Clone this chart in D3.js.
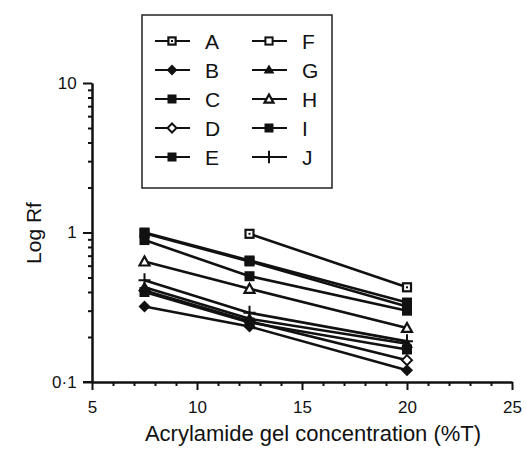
<!DOCTYPE html>
<html><head><meta charset="utf-8">
<script src="https://cdn.jsdelivr.net/npm/d3@7"></script>
<style>body{margin:0;background:#fff}svg{display:block}text{font-family:"Liberation Sans",Arial,sans-serif;fill:#111}</style>
</head><body>
<svg id="c" width="526" height="449"></svg>
<script>
const xValues = [7.5, 12.5, 20];
const seriesNames = ["A","B","C","D","E","F","G","H","I","J"];
const seriesShapes = ["sqdot","diamondF","squareF","diamondO","squareF","squareO","triF","triO","squareF","plus"];
const valA = [null, 0.98, 0.43];
const valB = [0.32, 0.235, 0.12];
const valC = [0.40, 0.25, 0.165];
const valD = [0.41, 0.255, 0.14];
const valE = [1.0, 0.65, 0.34];
const valF = [0.99, 0.64, 0.32];
const valG = [0.43, 0.265, 0.18];
const valH = [0.64, 0.42, 0.23];
const valI = [0.89, 0.51, 0.30];
const valJ = [0.48, 0.29, 0.187];
const xTicks = [5,10,15,20,25];
const yTickLabels = ["0·1","1","10"];
const yTickVals = [0.1,1,10];
const xLabel = "Acrylamide gel concentration (%T)";
const yLabel = "Log Rf";

const values = {A:valA,B:valB,C:valC,D:valD,E:valE,F:valF,G:valG,H:valH,I:valI,J:valJ};
const svg = d3.select("#c");
const x = d3.scaleLinear().domain([5,25]).range([92,512]);
const y = d3.scaleLog().domain([0.1,10]).range([382,83]);

const xMinor = d3.range(5,26,1).filter(v=>v%5!==0);
const gx = svg.append("g").attr("transform","translate(0,382)");
gx.call(d3.axisBottom(x).tickValues(xTicks).tickSize(8).tickSizeOuter(0).tickFormat(d3.format("d")));
gx.append("g").call(d3.axisBottom(x).tickValues(xMinor).tickSize(4).tickSizeOuter(0).tickFormat(""));
gx.selectAll("text").attr("font-size",17).attr("dy","1.2em");
const yMinor = [];
[0.1,1].forEach(b=>{for(let k=2;k<=9;k++) yMinor.push(b*k);});
const gy = svg.append("g").attr("transform","translate(92,0)");
gy.call(d3.axisLeft(y).tickValues(yTickVals).tickSize(9).tickSizeOuter(0).tickFormat((d,i)=>yTickLabels[i]));
gy.append("g").call(d3.axisLeft(y).tickValues(yMinor).tickSize(4).tickSizeOuter(0).tickFormat(""));
gy.selectAll("text").attr("font-size",17).attr("dx","-0.2em");
svg.selectAll(".domain").attr("stroke","#111").attr("stroke-width",2);
svg.selectAll(".tick line").attr("stroke","#111").attr("stroke-width",2);
svg.append("line").attr("x1",83).attr("x2",92).attr("y1",382).attr("y2",382).attr("stroke","#111").attr("stroke-width",2);

svg.append("text").attr("x",313).attr("y",441).attr("text-anchor","middle").attr("font-size",22).text(xLabel);
svg.append("text").attr("transform","translate(41,233) rotate(-90)").attr("text-anchor","middle").attr("font-size",21).text(yLabel);

function marker(g, shape, cx, cy, s){
  const k = s||1;
  if(shape==="squareF"){g.append("rect").attr("x",cx-5*k).attr("y",cy-5*k).attr("width",10*k).attr("height",10*k).attr("fill","#111");}
  else if(shape==="squareO"){g.append("rect").attr("x",cx-4*k).attr("y",cy-4*k).attr("width",8*k).attr("height",8*k).attr("fill","#fff").attr("stroke","#111").attr("stroke-width",2);}
  else if(shape==="sqdot"){g.append("rect").attr("x",cx-4*k).attr("y",cy-4*k).attr("width",8*k).attr("height",8*k).attr("fill","#fff").attr("stroke","#111").attr("stroke-width",2.2);
    g.append("rect").attr("x",cx-1).attr("y",cy-1).attr("width",2).attr("height",2).attr("fill","#111");}
  else if(shape==="diamondF"){g.append("path").attr("d",`M${cx},${cy-6*k}L${cx+6*k},${cy}L${cx},${cy+6*k}L${cx-6*k},${cy}Z`).attr("fill","#111");}
  else if(shape==="diamondO"){g.append("path").attr("d",`M${cx},${cy-5*k}L${cx+5*k},${cy}L${cx},${cy+5*k}L${cx-5*k},${cy}Z`).attr("fill","#fff").attr("stroke","#111").attr("stroke-width",2);}
  else if(shape==="triF"){g.append("path").attr("d",`M${cx},${cy-6*k}L${cx+6*k},${cy+4*k}L${cx-6*k},${cy+4*k}Z`).attr("fill","#111");}
  else if(shape==="triO"){g.append("path").attr("d",`M${cx},${cy-5*k}L${cx+5*k},${cy+4*k}L${cx-5*k},${cy+4*k}Z`).attr("fill","#fff").attr("stroke","#111").attr("stroke-width",2.2);}
  else if(shape==="plus"){g.append("path").attr("d",`M${cx-6*k},${cy}H${cx+6*k}M${cx},${cy-7*k}V${cy+7*k}`).attr("stroke","#111").attr("stroke-width",2);}
}

const order = ["F","A","H","J","D","C","G","B","I","E"];
const line = d3.line().defined(d=>d[1]!=null).x(d=>x(d[0])).y(d=>y(d[1]));
const plot = svg.append("g");
order.forEach(n=>{
  const pts = xValues.map((xv,i)=>[xv, values[n][i]]);
  plot.append("path").datum(pts).attr("d",line).attr("fill","none").attr("stroke","#111").attr("stroke-width",2.6);
});
order.forEach(n=>{
  const shape = seriesShapes[seriesNames.indexOf(n)];
  xValues.forEach((xv,i)=>{const v=values[n][i]; if(v!=null) marker(plot, shape, x(xv), y(v));});
});

const lg = svg.append("g");
lg.append("rect").attr("x",142).attr("y",15).attr("width",190).attr("height",173).attr("fill","#fff").attr("stroke","#222").attr("stroke-width",1.5);
seriesNames.forEach((n,i)=>{
  const col = Math.floor(i/5), row = i%5;
  const cy = 41 + row*29;
  const x0 = col===0 ? 155 : 252;
  lg.append("line").attr("x1",x0).attr("x2",x0+35).attr("y1",cy).attr("y2",cy).attr("stroke","#111").attr("stroke-width",2.2);
  marker(lg, seriesShapes[i], x0+17, cy, 0.9);
  lg.append("text").attr("x",x0+50).attr("y",cy+7.5).attr("font-size",21).text(n);
});
</script>
</body></html>
